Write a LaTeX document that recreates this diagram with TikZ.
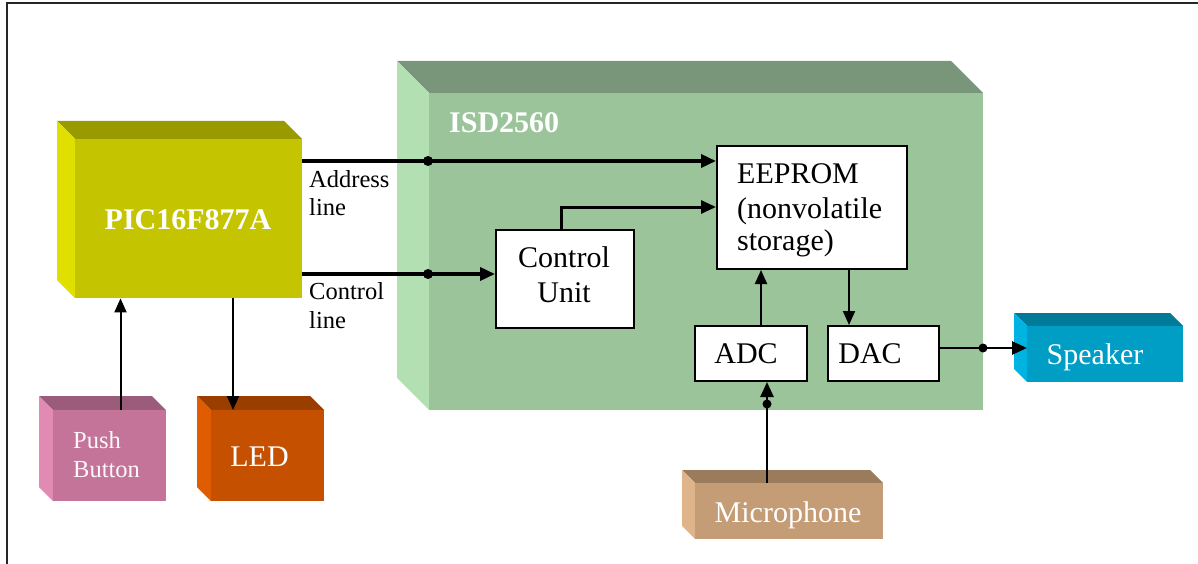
\documentclass[tikz,border=0pt]{standalone}
\usepackage{fontspec}
\setmainfont{Liberation Serif}
\usetikzlibrary{arrows.meta}
\definecolor{picF}{HTML}{C4C400}\definecolor{picT}{HTML}{999900}\definecolor{picL}{HTML}{E0E000}
\definecolor{isdF}{HTML}{9BC49B}\definecolor{isdT}{HTML}{7A967A}\definecolor{isdL}{HTML}{B3E0B3}
\definecolor{pshF}{HTML}{C47499}\definecolor{pshT}{HTML}{9A5C7A}\definecolor{pshL}{HTML}{E08AB4}
\definecolor{ledF}{HTML}{C45000}\definecolor{ledT}{HTML}{9A3E00}\definecolor{ledL}{HTML}{E05C00}
\definecolor{spkF}{HTML}{009DC4}\definecolor{spkT}{HTML}{007A99}\definecolor{spkL}{HTML}{00B3E0}
\definecolor{micF}{HTML}{C49C76}\definecolor{micT}{HTML}{9A7B5C}\definecolor{micL}{HTML}{E0B48A}
\newcommand\fbig{\fontsize{30}{34}\selectfont}
\newcommand\fsmall{\fontsize{24.5}{28}\selectfont}
\newcommand\cubesides[6]{%
  \fill[#6T] (#1,#2) -- ({#1-#5},{#2-#5}) -- ({#3-#5},{#2-#5}) -- (#3,#2) -- cycle;
  \fill[#6L] (#1,#2) -- ({#1-#5},{#2-#5}) -- ({#1-#5},{#4-#5}) -- (#1,#4) -- cycle;
}
\begin{document}
\begin{tikzpicture}[x=1pt,y=-1pt,
  face/.style={inner sep=0pt, anchor=north west, draw=none},
  wbox/.style={draw=black, line width=2pt, fill=white, inner sep=0pt, anchor=north west},
  txt/.style={inner sep=0pt, anchor=base west, font=\fbig},
  stxt/.style={inner sep=0pt, anchor=base west, font=\fsmall},
  wtxt/.style={inner sep=0pt, anchor=base, font=\fbig, text=white},
  conn/.style={line width=2pt, -{Triangle[length=14pt,width=12pt]}},
  plain/.style={line width=2pt},
  bus/.style={line width=3.5pt, -{Triangle[length=15pt,width=13pt]}},
  dot/.style={circle, fill=black, inner sep=0pt, minimum size=9pt}
]
\useasboundingbox (0,0) rectangle (1198,564);
\draw[line width=2pt, black!85] (7,570) -- (7,3) -- (1205,3);

% PIC
\cubesides{75}{139}{302}{298}{18}{pic}
\node[face, fill=picF, minimum width=227pt, minimum height=159pt] (pic) at (75,139) {};
\node[wtxt, font=\fbig\bfseries] (pict) at (188,229) {PIC16F877A};

% ISD
\cubesides{429}{93}{983}{410}{32}{isd}
\node[face, fill=isdF, minimum width=554pt, minimum height=317pt] (isd) at (429,93) {};
\node[txt, font=\fbig\bfseries, text=white] (isdt) at (449,133) {ISD2560};

% Push button
\cubesides{53}{410}{166}{501}{14}{psh}
\node[face, fill=pshF, minimum width=113pt, minimum height=91pt] (push) at (53,410) {};
\node[stxt, text=white!95!pshF] (pusht1) at (73,448) {Push};
\node[stxt, text=white!95!pshF] (pusht2) at (73,477) {Button};

% LED
\cubesides{211}{410}{324}{501}{14}{led}
\node[face, fill=ledF, minimum width=113pt, minimum height=91pt] (led) at (211,410) {};
\node[wtxt] (ledt) at (259.5,466) {LED};

% Speaker
\cubesides{1027}{326}{1183}{382}{13}{spk}
\node[face, fill=spkF, minimum width=156pt, minimum height=56pt] (spk) at (1027,326) {};
\node[wtxt] (spkt) at (1095,364) {Speaker};

% Microphone
\cubesides{695}{483}{883}{539}{13}{mic}
\node[face, fill=micF, minimum width=188pt, minimum height=56pt] (mic) at (695,483) {};
\node[wtxt] (mict) at (788,522) {Microphone};

% inner white boxes
\node[wbox, minimum width=190pt, minimum height=123pt] (eeprom) at (716,145) {};
\node[txt] (ee1) at (737,183) {EEPROM};
\node[txt] (ee2) at (737,218) {(nonvolatile};
\node[txt] (ee3) at (737,250) {storage)};

\node[wbox, minimum width=138pt, minimum height=98pt] (ctrl) at (495,229) {};
\node[wtxt, text=black] (ct1) at (564,267) {Control};
\node[wtxt, text=black] (ct2) at (564,302) {Unit};

\node[wbox, minimum width=112pt, minimum height=55pt] (adc) at (694,325) {};
\node[wtxt, text=black] (adct) at (746,363) {ADC};
\node[wbox, minimum width=111pt, minimum height=55pt] (dac) at (827,325) {};
\node[wtxt, text=black] (dact) at (870,363) {DAC};

% line labels
\node[stxt] (al1) at (309,187) {Address};
\node[stxt] (al2) at (309,215) {line};
\node[stxt] (cl1) at (309,299) {Control};
\node[stxt] (cl2) at (309,328) {line};

% connectors
\coordinate (a1) at (428,161);
\coordinate (c1) at (428,274);
\coordinate (k) at (561,207);
\coordinate (m1) at (761,0);
\coordinate (m2) at (849,0);
\coordinate (s1) at (983,348);
\coordinate (mc) at (767,404);
\coordinate (pb) at (120.5,0);
\coordinate (lx) at (233,0);

\draw[bus] (a1 -| pic.east) -- (a1 -| eeprom.west);
\node[dot, minimum size=10pt] (d1) at (a1) {};
\draw[bus] (c1 -| pic.east) -- (c1 -| ctrl.west);
\node[dot, minimum size=10pt] (d2) at (c1) {};
\draw[line width=3pt, -{Triangle[length=15pt,width=13pt]}] (k |- ctrl.north) -- (k) -- (k -| eeprom.west);
\draw[conn] (m1 |- adc.north) -- (m1 |- eeprom.south);
\draw[conn] (m2 |- eeprom.south) -- (m2 |- dac.north);
\draw[line width=2.5pt, -{Triangle[length=15pt,width=13pt]}] (s1 -| dac.east) -- (s1 -| spk.west);
\node[dot] (d3) at (s1) {};
\draw[line width=2.5pt, -{Triangle[length=15pt,width=13pt]}] (mc |- mic.north) -- (mc |- adc.south);
\node[dot] (d4) at (mc) {};
\draw[conn] (pb |- push.north) -- (pb |- pic.south);
\draw[conn] (lx |- pic.south) -- (lx |- led.north);
\end{tikzpicture}
\end{document}
